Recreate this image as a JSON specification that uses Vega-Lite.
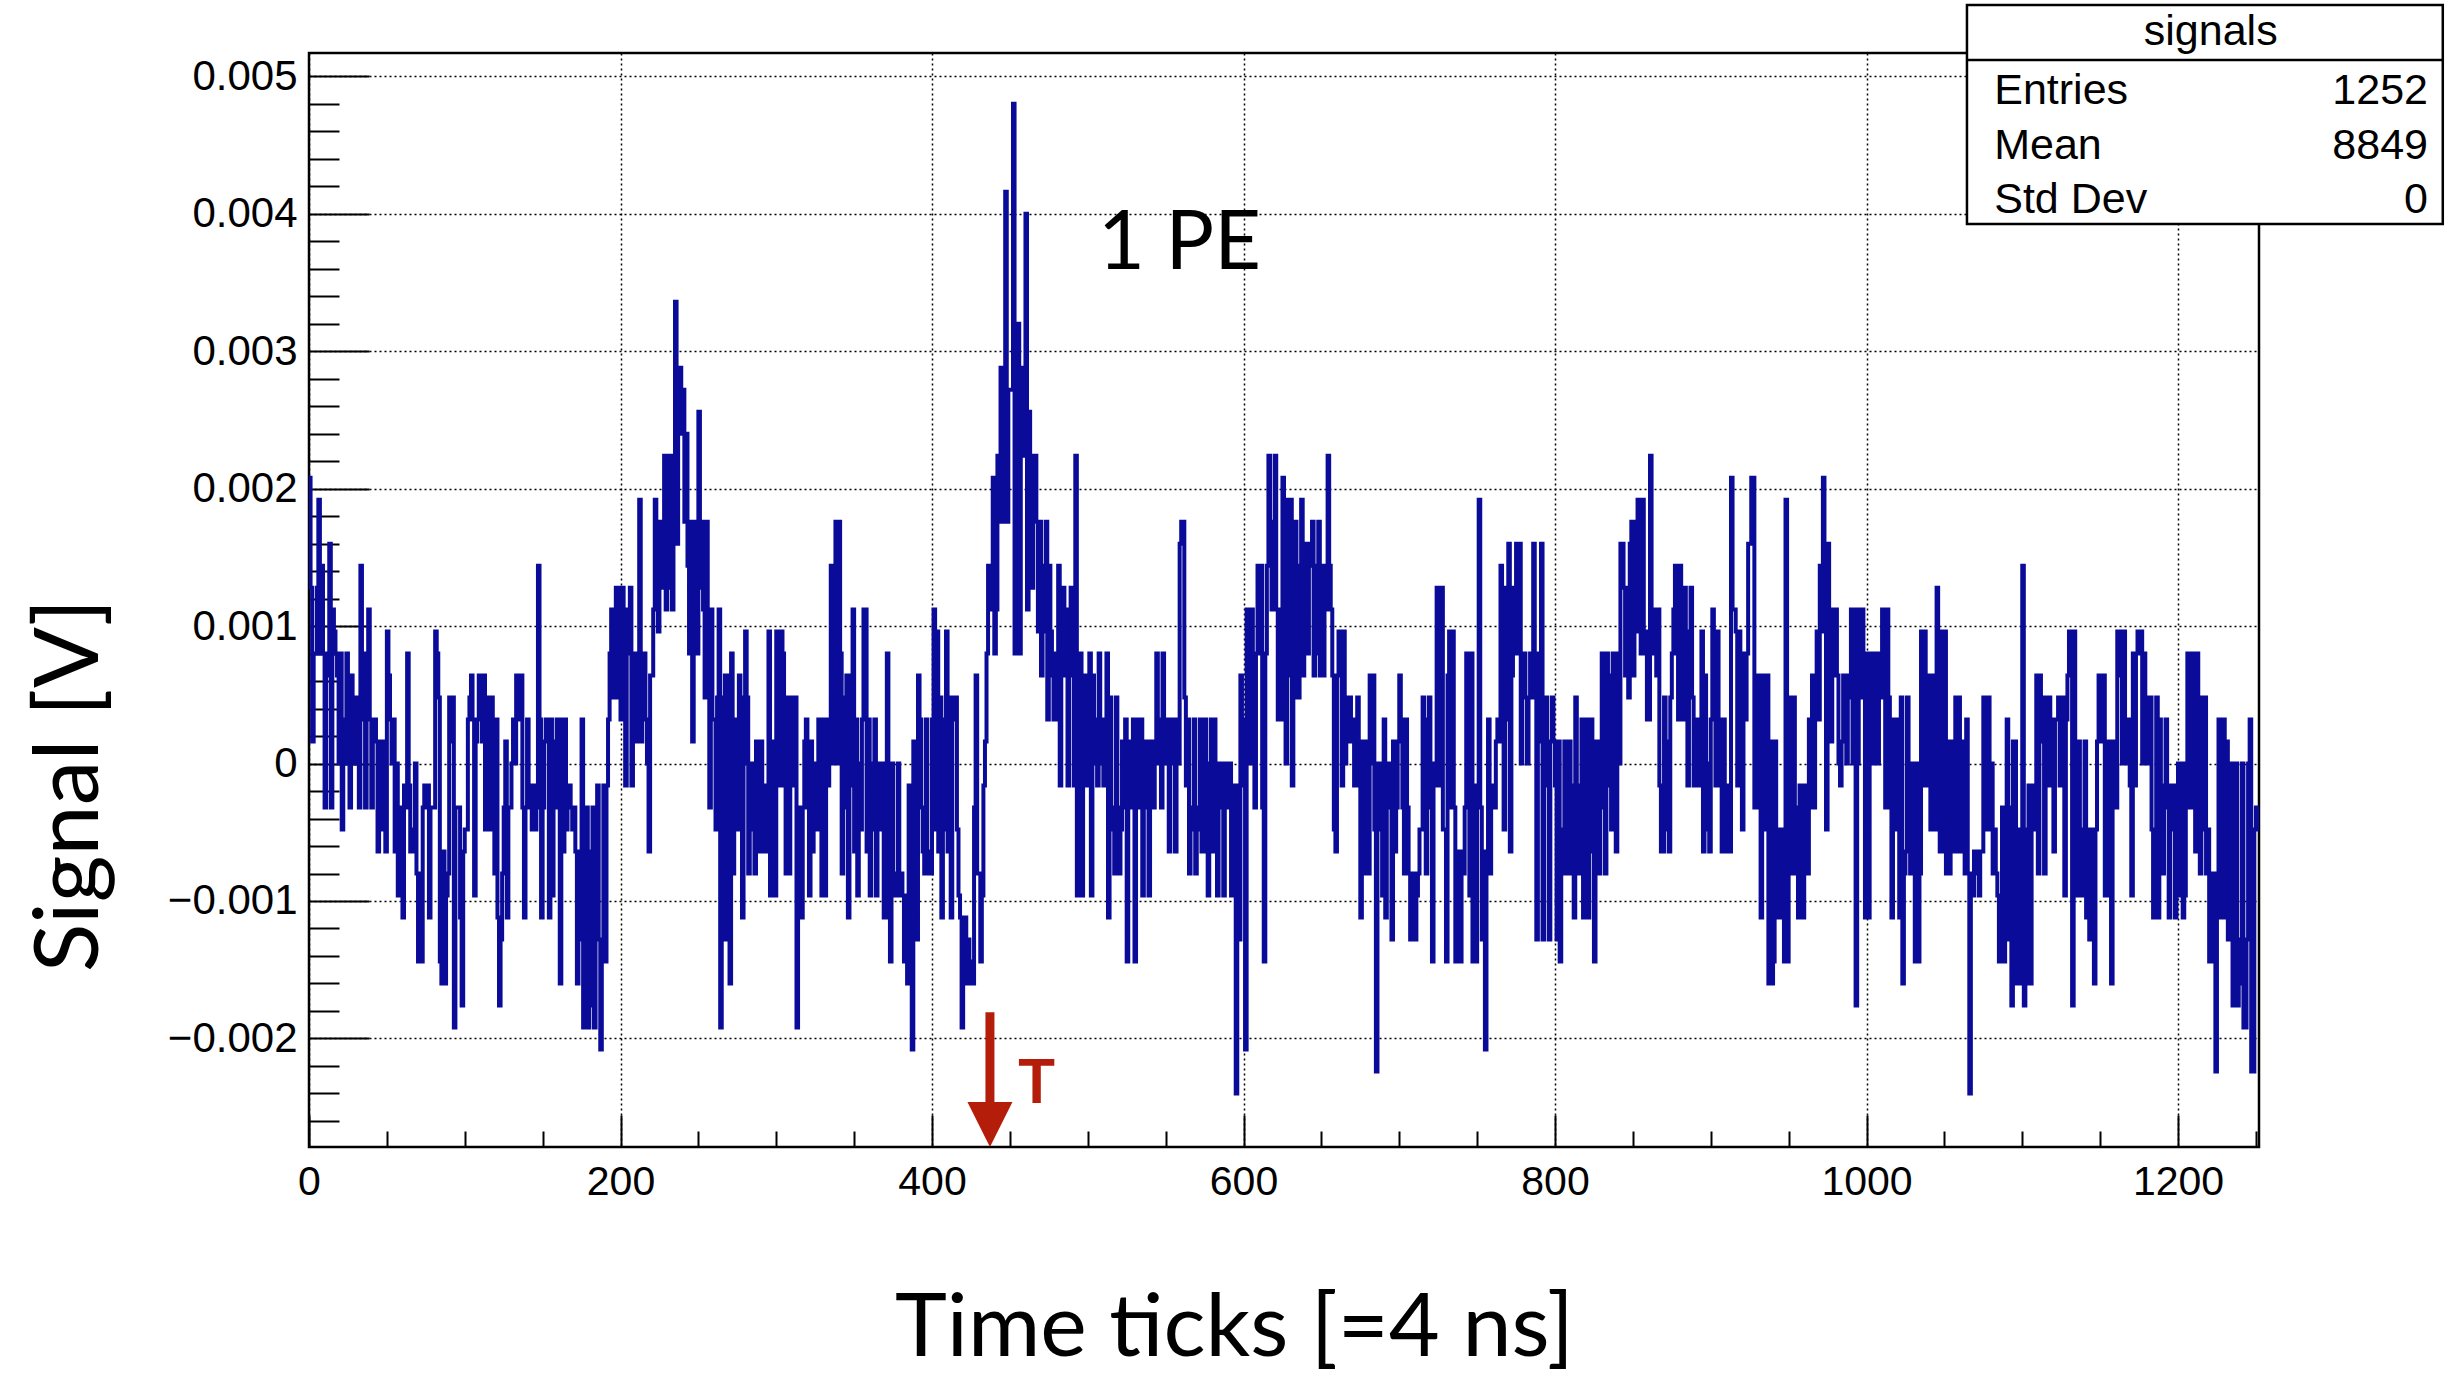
{
  "$schema": "https://vega.github.io/schema/vega-lite/v6.json",
  "width": 1950,
  "height": 1094,
  "autosize": "none",
  "padding": {"left": 309, "top": 53, "right": 201, "bottom": 236},
  "background": "white",
  "config": {"view": {"stroke": "black", "strokeWidth": 2.5}, "font": "Liberation Sans", "axis": {"labelOverlap": false}},
  "datasets": {
    "signal": [
{"t":0,"v":0.00208},{"t":1,"v":0.00128},{"t":2,"v":0.00016},{"t":3,"v":0.0008},{"t":4,"v":0.0008},{"t":5,"v":0.00128},{"t":6,"v":0.00192},{"t":7,"v":0.0008},{"t":8,"v":0.00144},{"t":9,"v":0.0008},
{"t":10,"v":-0.00032},{"t":11,"v":0.00064},{"t":12,"v":0.0008},{"t":13,"v":0.0016},{"t":14,"v":-0.00032},{"t":15,"v":0.00112},{"t":16,"v":0.00096},{"t":17,"v":0.0008},{"t":18,"v":0.00064},{"t":19,"v":0},
{"t":20,"v":0.0008},{"t":21,"v":-0.00048},{"t":22,"v":0.00032},{"t":23,"v":0},{"t":24,"v":0.0008},{"t":25,"v":0.00048},{"t":26,"v":-0.00032},{"t":27,"v":0.00064},{"t":28,"v":0},{"t":29,"v":0.00032},
{"t":30,"v":0.00048},{"t":31,"v":0},{"t":32,"v":-0.00032},{"t":33,"v":0.00144},{"t":34,"v":0.00032},{"t":35,"v":0.0008},{"t":36,"v":-0.00032},{"t":37,"v":0.00064},{"t":38,"v":0.00112},{"t":39,"v":0.00032},
{"t":40,"v":-0.00032},{"t":41,"v":0.00016},{"t":42,"v":0.00032},{"t":43,"v":0.00016},{"t":44,"v":-0.00064},{"t":45,"v":0.00016},{"t":46,"v":0},{"t":47,"v":-0.00048},{"t":48,"v":0.00016},{"t":49,"v":-0.00064},
{"t":50,"v":0.00096},{"t":51,"v":0.00064},{"t":52,"v":0.00032},{"t":53,"v":0},{"t":54,"v":0.00032},{"t":55,"v":-0.00064},{"t":56,"v":0},{"t":57,"v":-0.00096},{"t":58,"v":-0.00032},{"t":59,"v":-0.00032},
{"t":60,"v":-0.00112},{"t":61,"v":-0.00016},{"t":62,"v":-0.00032},{"t":63,"v":0.0008},{"t":64,"v":-0.00016},{"t":65,"v":-0.00064},{"t":66,"v":-0.00048},{"t":67,"v":-0.00064},{"t":68,"v":0},{"t":69,"v":-0.0008},
{"t":70,"v":-0.00144},{"t":71,"v":-0.0008},{"t":72,"v":-0.00144},{"t":73,"v":-0.00032},{"t":74,"v":-0.00016},{"t":75,"v":-0.00032},{"t":76,"v":-0.00016},{"t":77,"v":-0.00112},{"t":78,"v":-0.00032},{"t":79,"v":-0.00032},
{"t":80,"v":-0.00032},{"t":81,"v":0.00096},{"t":82,"v":0.0008},{"t":83,"v":0.00048},{"t":84,"v":-0.00144},{"t":85,"v":-0.0016},{"t":86,"v":-0.00064},{"t":87,"v":-0.0016},{"t":88,"v":-0.00096},{"t":89,"v":-0.0008},
{"t":90,"v":0.00048},{"t":91,"v":0.00016},{"t":92,"v":0.00048},{"t":93,"v":-0.00192},{"t":94,"v":-0.00032},{"t":95,"v":-0.00032},{"t":96,"v":-0.00032},{"t":97,"v":-0.00112},{"t":98,"v":-0.00176},{"t":99,"v":-0.00064},
{"t":100,"v":-0.00048},{"t":101,"v":-0.00048},{"t":102,"v":0.00032},{"t":103,"v":0.00048},{"t":104,"v":0.00064},{"t":105,"v":0.00032},{"t":106,"v":-0.00096},{"t":107,"v":0.00016},{"t":108,"v":0.00032},{"t":109,"v":0.00064},
{"t":110,"v":0.00032},{"t":111,"v":0.00016},{"t":112,"v":0.00064},{"t":113,"v":-0.00048},{"t":114,"v":0.00048},{"t":115,"v":0.00032},{"t":116,"v":-0.00048},{"t":117,"v":0.00048},{"t":118,"v":-0.00032},{"t":119,"v":-0.0008},
{"t":120,"v":0.00032},{"t":121,"v":-0.00112},{"t":122,"v":-0.00176},{"t":123,"v":-0.00128},{"t":124,"v":-0.0008},{"t":125,"v":-0.00032},{"t":126,"v":0.00016},{"t":127,"v":-0.00112},{"t":128,"v":-0.00032},{"t":129,"v":-0.00032},
{"t":130,"v":0},{"t":131,"v":0.00032},{"t":132,"v":0},{"t":133,"v":0.00064},{"t":134,"v":0.00032},{"t":135,"v":0.00032},{"t":136,"v":0.00064},{"t":137,"v":-0.00032},{"t":138,"v":-0.00112},{"t":139,"v":-0.00032},
{"t":140,"v":0.00032},{"t":141,"v":-0.00016},{"t":142,"v":-0.00032},{"t":143,"v":-0.00048},{"t":144,"v":-0.00016},{"t":145,"v":-0.00048},{"t":146,"v":-0.00032},{"t":147,"v":0.00144},{"t":148,"v":0.00032},{"t":149,"v":-0.00112},
{"t":150,"v":-0.00032},{"t":151,"v":0.00016},{"t":152,"v":0.00032},{"t":153,"v":0.00016},{"t":154,"v":-0.00112},{"t":155,"v":0.00032},{"t":156,"v":-0.00096},{"t":157,"v":0.00016},{"t":158,"v":-0.00032},{"t":159,"v":0.00032},
{"t":160,"v":0.00016},{"t":161,"v":-0.0016},{"t":162,"v":0.00032},{"t":163,"v":-0.00064},{"t":164,"v":0.00032},{"t":165,"v":-0.00048},{"t":166,"v":-0.00032},{"t":167,"v":-0.00016},{"t":168,"v":-0.00032},{"t":169,"v":-0.00048},
{"t":170,"v":-0.00032},{"t":171,"v":-0.00064},{"t":172,"v":-0.0016},{"t":173,"v":-0.00064},{"t":174,"v":-0.00128},{"t":175,"v":0.00032},{"t":176,"v":-0.00192},{"t":177,"v":-0.00032},{"t":178,"v":-0.00032},{"t":179,"v":-0.00192},
{"t":180,"v":-0.00064},{"t":181,"v":-0.00176},{"t":182,"v":-0.00032},{"t":183,"v":-0.00192},{"t":184,"v":-0.00064},{"t":185,"v":-0.00016},{"t":186,"v":-0.00128},{"t":187,"v":-0.00208},{"t":188,"v":-0.00144},{"t":189,"v":-0.00016},
{"t":190,"v":-0.00144},{"t":191,"v":-0.00016},{"t":192,"v":0.00032},{"t":193,"v":0.0008},{"t":194,"v":0.00112},{"t":195,"v":0.00048},{"t":196,"v":0.00112},{"t":197,"v":0.00128},{"t":198,"v":0.00048},{"t":199,"v":0.00128},
{"t":200,"v":0.00032},{"t":201,"v":0.00128},{"t":202,"v":0.0008},{"t":203,"v":-0.00016},{"t":204,"v":0.00112},{"t":205,"v":0.0008},{"t":206,"v":0.00128},{"t":207,"v":-0.00016},{"t":208,"v":0.0008},{"t":209,"v":0.0008},
{"t":210,"v":0.00016},{"t":211,"v":0.00032},{"t":212,"v":0.00192},{"t":213,"v":0.00016},{"t":214,"v":0.0008},{"t":215,"v":0.0008},{"t":216,"v":0.00032},{"t":217,"v":0},{"t":218,"v":-0.00064},{"t":219,"v":0.00064},
{"t":220,"v":0.00064},{"t":221,"v":0.00112},{"t":222,"v":0.00192},{"t":223,"v":0.00176},{"t":224,"v":0.00096},{"t":225,"v":0.00176},{"t":226,"v":0.00144},{"t":227,"v":0.00128},{"t":228,"v":0.00224},{"t":229,"v":0.00112},
{"t":230,"v":0.00144},{"t":231,"v":0.00224},{"t":232,"v":0.00128},{"t":233,"v":0.00112},{"t":234,"v":0.00224},{"t":235,"v":0.00336},{"t":236,"v":0.0016},{"t":237,"v":0.00272},{"t":238,"v":0.00288},{"t":239,"v":0.0024},
{"t":240,"v":0.00272},{"t":241,"v":0.00176},{"t":242,"v":0.0024},{"t":243,"v":0.00144},{"t":244,"v":0.0008},{"t":245,"v":0.00176},{"t":246,"v":0.00016},{"t":247,"v":0.0008},{"t":248,"v":0.00176},{"t":249,"v":0.0008},
{"t":250,"v":0.00256},{"t":251,"v":0.00128},{"t":252,"v":0.00176},{"t":253,"v":0.00112},{"t":254,"v":0.00048},{"t":255,"v":0.00176},{"t":256,"v":0.00112},{"t":257,"v":-0.00032},{"t":258,"v":0.00112},{"t":259,"v":0.00032},
{"t":260,"v":0.00032},{"t":261,"v":-0.00048},{"t":262,"v":0.00048},{"t":263,"v":0.00112},{"t":264,"v":-0.00192},{"t":265,"v":0.00048},{"t":266,"v":-0.00128},{"t":267,"v":0.00064},{"t":268,"v":-0.00128},{"t":269,"v":0.00064},
{"t":270,"v":-0.0016},{"t":271,"v":0.0008},{"t":272,"v":-0.0008},{"t":273,"v":0.00032},{"t":274,"v":0.00032},{"t":275,"v":-0.00048},{"t":276,"v":0.00064},{"t":277,"v":0.00048},{"t":278,"v":-0.00112},{"t":279,"v":0},
{"t":280,"v":0.00096},{"t":281,"v":0.00048},{"t":282,"v":-0.0008},{"t":283,"v":0},{"t":284,"v":-0.00048},{"t":285,"v":0},{"t":286,"v":-0.0008},{"t":287,"v":0.00016},{"t":288,"v":-0.00064},{"t":289,"v":-0.00016},
{"t":290,"v":0.00016},{"t":291,"v":-0.00064},{"t":292,"v":-0.00016},{"t":293,"v":-0.00064},{"t":294,"v":-0.00016},{"t":295,"v":0.00096},{"t":296,"v":-0.00096},{"t":297,"v":0.00016},{"t":298,"v":-0.00064},{"t":299,"v":-0.00096},
{"t":300,"v":0.00096},{"t":301,"v":0.0008},{"t":302,"v":-0.00016},{"t":303,"v":0.00096},{"t":304,"v":0.0008},{"t":305,"v":-0.00016},{"t":306,"v":-0.0008},{"t":307,"v":0.00048},{"t":308,"v":-0.0008},{"t":309,"v":0.00048},
{"t":310,"v":0.00032},{"t":311,"v":-0.00016},{"t":312,"v":0.00048},{"t":313,"v":-0.00192},{"t":314,"v":-0.00112},{"t":315,"v":-0.00032},{"t":316,"v":-0.00112},{"t":317,"v":-0.00032},{"t":318,"v":0.00016},{"t":319,"v":0.00032},
{"t":320,"v":-0.00032},{"t":321,"v":-0.00096},{"t":322,"v":0.00016},{"t":323,"v":-0.00064},{"t":324,"v":-0.00016},{"t":325,"v":0},{"t":326,"v":-0.00048},{"t":327,"v":0.00032},{"t":328,"v":0},{"t":329,"v":-0.00096},
{"t":330,"v":0.00032},{"t":331,"v":-0.00096},{"t":332,"v":0.00032},{"t":333,"v":-0.00016},{"t":334,"v":0.00032},{"t":335,"v":0.00144},{"t":336,"v":0},{"t":337,"v":0.00144},{"t":338,"v":0.00176},{"t":339,"v":0},
{"t":340,"v":0.00176},{"t":341,"v":0.0008},{"t":342,"v":-0.0008},{"t":343,"v":-0.00032},{"t":344,"v":0.00048},{"t":345,"v":0.00064},{"t":346,"v":-0.00112},{"t":347,"v":-0.00016},{"t":348,"v":0.00064},{"t":349,"v":0.00112},
{"t":350,"v":-0.00064},{"t":351,"v":0.00032},{"t":352,"v":-0.00096},{"t":353,"v":0},{"t":354,"v":-0.00048},{"t":355,"v":0.00032},{"t":356,"v":0.00112},{"t":357,"v":0.00112},{"t":358,"v":-0.00064},{"t":359,"v":0.00032},
{"t":360,"v":-0.00096},{"t":361,"v":0},{"t":362,"v":-0.00048},{"t":363,"v":0.00032},{"t":364,"v":-0.00096},{"t":365,"v":0},{"t":366,"v":-0.00048},{"t":367,"v":-0.00016},{"t":368,"v":0},{"t":369,"v":-0.00112},
{"t":370,"v":-0.00032},{"t":371,"v":0.0008},{"t":372,"v":-0.00112},{"t":373,"v":-0.00144},{"t":374,"v":0},{"t":375,"v":-0.0008},{"t":376,"v":-0.00096},{"t":377,"v":-0.0008},{"t":378,"v":0},{"t":379,"v":-0.00096},
{"t":380,"v":-0.0008},{"t":381,"v":-0.00096},{"t":382,"v":-0.00144},{"t":383,"v":-0.00096},{"t":384,"v":-0.0016},{"t":385,"v":-0.00016},{"t":386,"v":-0.0016},{"t":387,"v":-0.00208},{"t":388,"v":0.00016},{"t":389,"v":-0.00128},
{"t":390,"v":-0.00128},{"t":391,"v":0.00064},{"t":392,"v":0.00032},{"t":393,"v":-0.00032},{"t":394,"v":-0.00064},{"t":395,"v":-0.0008},{"t":396,"v":0.00032},{"t":397,"v":-0.00064},{"t":398,"v":-0.0008},{"t":399,"v":-0.0008},
{"t":400,"v":0.00032},{"t":401,"v":0.00112},{"t":402,"v":-0.00048},{"t":403,"v":0.00096},{"t":404,"v":-0.00064},{"t":405,"v":0.00048},{"t":406,"v":-0.00112},{"t":407,"v":0.00032},{"t":408,"v":-0.00048},{"t":409,"v":0.00096},
{"t":410,"v":-0.00064},{"t":411,"v":0.00048},{"t":412,"v":-0.00112},{"t":413,"v":0.00032},{"t":414,"v":0.00048},{"t":415,"v":0.00048},{"t":416,"v":-0.00048},{"t":417,"v":-0.00096},{"t":418,"v":-0.00112},{"t":419,"v":-0.00192},
{"t":420,"v":-0.00128},{"t":421,"v":-0.00112},{"t":422,"v":-0.0016},{"t":423,"v":-0.00128},{"t":424,"v":-0.0016},{"t":425,"v":-0.00144},{"t":426,"v":-0.0016},{"t":427,"v":-0.00032},{"t":428,"v":0.00064},{"t":429,"v":-0.0008},
{"t":430,"v":-0.0008},{"t":431,"v":-0.00144},{"t":432,"v":-0.00096},{"t":433,"v":-0.00016},{"t":434,"v":0.00016},{"t":435,"v":0.0008},{"t":436,"v":0.00144},{"t":437,"v":0.00112},{"t":438,"v":0.00144},{"t":439,"v":0.00208},
{"t":440,"v":0.0008},{"t":441,"v":0.00112},{"t":442,"v":0.00224},{"t":443,"v":0.00176},{"t":444,"v":0.00288},{"t":445,"v":0.00176},{"t":446,"v":0.00224},{"t":447,"v":0.00416},{"t":448,"v":0.00176},{"t":449,"v":0.00272},
{"t":450,"v":0.00272},{"t":451,"v":0.00272},{"t":452,"v":0.0048},{"t":453,"v":0.0008},{"t":454,"v":0.0024},{"t":455,"v":0.0032},{"t":456,"v":0.0008},{"t":457,"v":0.00288},{"t":458,"v":0.00224},{"t":459,"v":0.00224},
{"t":460,"v":0.004},{"t":461,"v":0.00112},{"t":462,"v":0.00256},{"t":463,"v":0.00224},{"t":464,"v":0.00128},{"t":465,"v":0.00176},{"t":466,"v":0.00224},{"t":467,"v":0.00176},{"t":468,"v":0.00096},{"t":469,"v":0.00176},
{"t":470,"v":0.00064},{"t":471,"v":0.00144},{"t":472,"v":0.00096},{"t":473,"v":0.00176},{"t":474,"v":0.00032},{"t":475,"v":0.00144},{"t":476,"v":0.00096},{"t":477,"v":0.00064},{"t":478,"v":0.00032},{"t":479,"v":0.0008},
{"t":480,"v":0.00032},{"t":481,"v":0.00144},{"t":482,"v":-0.00016},{"t":483,"v":0.0008},{"t":484,"v":0.00128},{"t":485,"v":0.00064},{"t":486,"v":0.00112},{"t":487,"v":-0.00016},{"t":488,"v":0.00064},{"t":489,"v":0.00128},
{"t":490,"v":0.00112},{"t":491,"v":-0.00016},{"t":492,"v":0.00224},{"t":493,"v":-0.00096},{"t":494,"v":0.0008},{"t":495,"v":0.0008},{"t":496,"v":-0.00096},{"t":497,"v":0.00064},{"t":498,"v":-0.00016},{"t":499,"v":0.00064},
{"t":500,"v":-0.00016},{"t":501,"v":0.0008},{"t":502,"v":-0.00096},{"t":503,"v":0.00064},{"t":504,"v":0.00032},{"t":505,"v":0},{"t":506,"v":-0.00016},{"t":507,"v":0.0008},{"t":508,"v":0},{"t":509,"v":0.00032},
{"t":510,"v":-0.00016},{"t":511,"v":0},{"t":512,"v":0.0008},{"t":513,"v":-0.00112},{"t":514,"v":0.00048},{"t":515,"v":-0.00032},{"t":516,"v":-0.00048},{"t":517,"v":-0.0008},{"t":518,"v":0.00048},{"t":519,"v":-0.00032},
{"t":520,"v":-0.0008},{"t":521,"v":-0.00048},{"t":522,"v":0.00016},{"t":523,"v":-0.00032},{"t":524,"v":0.00032},{"t":525,"v":-0.00144},{"t":526,"v":0},{"t":527,"v":0.00016},{"t":528,"v":-0.00032},{"t":529,"v":0.00032},
{"t":530,"v":-0.00144},{"t":531,"v":0},{"t":532,"v":0.00032},{"t":533,"v":-0.00032},{"t":534,"v":0.00032},{"t":535,"v":-0.00096},{"t":536,"v":0.00016},{"t":537,"v":-0.00032},{"t":538,"v":0.00016},{"t":539,"v":-0.00096},
{"t":540,"v":-0.00032},{"t":541,"v":0.00016},{"t":542,"v":-0.00032},{"t":543,"v":0},{"t":544,"v":0.0008},{"t":545,"v":0.00032},{"t":546,"v":0},{"t":547,"v":-0.00032},{"t":548,"v":0.0008},{"t":549,"v":0.00032},
{"t":550,"v":0},{"t":551,"v":0.00032},{"t":552,"v":-0.00064},{"t":553,"v":0.00032},{"t":554,"v":0},{"t":555,"v":0.00032},{"t":556,"v":-0.00064},{"t":557,"v":0.00032},{"t":558,"v":0},{"t":559,"v":0.0016},
{"t":560,"v":0.00176},{"t":561,"v":0.00176},{"t":562,"v":0.00048},{"t":563,"v":-0.00016},{"t":564,"v":0.00032},{"t":565,"v":-0.0008},{"t":566,"v":-0.00032},{"t":567,"v":-0.00048},{"t":568,"v":0.00032},{"t":569,"v":-0.0008},
{"t":570,"v":-0.00032},{"t":571,"v":-0.00048},{"t":572,"v":0.00032},{"t":573,"v":-0.00064},{"t":574,"v":-0.00032},{"t":575,"v":0.00032},{"t":576,"v":-0.00064},{"t":577,"v":-0.00096},{"t":578,"v":0},{"t":579,"v":0.00032},
{"t":580,"v":-0.00064},{"t":581,"v":0.00032},{"t":582,"v":0},{"t":583,"v":-0.00096},{"t":584,"v":0},{"t":585,"v":-0.00032},{"t":586,"v":0},{"t":587,"v":-0.00096},{"t":588,"v":-0.00032},{"t":589,"v":0},
{"t":590,"v":-0.00032},{"t":591,"v":0},{"t":592,"v":-0.00096},{"t":593,"v":-0.00032},{"t":594,"v":-0.00016},{"t":595,"v":-0.0024},{"t":596,"v":-0.00016},{"t":597,"v":-0.00128},{"t":598,"v":0.00064},{"t":599,"v":-0.00016},
{"t":600,"v":0.00032},{"t":601,"v":-0.00208},{"t":602,"v":0.00112},{"t":603,"v":0},{"t":604,"v":0.00032},{"t":605,"v":0.00112},{"t":606,"v":0},{"t":607,"v":-0.00032},{"t":608,"v":0.0008},{"t":609,"v":0.00144},
{"t":610,"v":0.0008},{"t":611,"v":0.00144},{"t":612,"v":-0.00032},{"t":613,"v":-0.00144},{"t":614,"v":0.0008},{"t":615,"v":0.00144},{"t":616,"v":0.00224},{"t":617,"v":0.00176},{"t":618,"v":0.00112},{"t":619,"v":0.00176},
{"t":620,"v":0.00224},{"t":621,"v":0.00112},{"t":622,"v":0.00032},{"t":623,"v":0.00112},{"t":624,"v":0.00032},{"t":625,"v":0.00208},{"t":626,"v":0.00064},{"t":627,"v":0},{"t":628,"v":0.00192},{"t":629,"v":0.00064},
{"t":630,"v":0.00192},{"t":631,"v":-0.00016},{"t":632,"v":0.00048},{"t":633,"v":0.00176},{"t":634,"v":0.00064},{"t":635,"v":0.00048},{"t":636,"v":0.00144},{"t":637,"v":0.00192},{"t":638,"v":0.00064},{"t":639,"v":0.0016},
{"t":640,"v":0.00144},{"t":641,"v":0.0008},{"t":642,"v":0.0016},{"t":643,"v":0.00144},{"t":644,"v":0.00176},{"t":645,"v":0.00064},{"t":646,"v":0.00144},{"t":647,"v":0.0008},{"t":648,"v":0.00176},{"t":649,"v":0.00064},
{"t":650,"v":0.00144},{"t":651,"v":0.00064},{"t":652,"v":0.00144},{"t":653,"v":0.00112},{"t":654,"v":0.00224},{"t":655,"v":0.00144},{"t":656,"v":0.00112},{"t":657,"v":0.00064},{"t":658,"v":-0.00048},{"t":659,"v":-0.00064},
{"t":660,"v":0.00064},{"t":661,"v":0.00096},{"t":662,"v":0.00064},{"t":663,"v":-0.00016},{"t":664,"v":0.00096},{"t":665,"v":0},{"t":666,"v":0.00048},{"t":667,"v":0.00016},{"t":668,"v":0.00048},{"t":669,"v":0.00032},
{"t":670,"v":0.00016},{"t":671,"v":-0.00016},{"t":672,"v":0.00032},{"t":673,"v":0.00048},{"t":674,"v":-0.00016},{"t":675,"v":-0.00112},{"t":676,"v":0.00016},{"t":677,"v":0.00016},{"t":678,"v":-0.0008},{"t":679,"v":0.00016},
{"t":680,"v":-0.0008},{"t":681,"v":0.00064},{"t":682,"v":0},{"t":683,"v":0.00064},{"t":684,"v":-0.00048},{"t":685,"v":-0.00224},{"t":686,"v":0},{"t":687,"v":-0.00048},{"t":688,"v":0},{"t":689,"v":-0.00096},
{"t":690,"v":0.00032},{"t":691,"v":-0.00112},{"t":692,"v":-0.00032},{"t":693,"v":0},{"t":694,"v":-0.00032},{"t":695,"v":-0.00128},{"t":696,"v":0.00016},{"t":697,"v":-0.00064},{"t":698,"v":-0.00032},{"t":699,"v":0.00016},
{"t":700,"v":0.00064},{"t":701,"v":0.00032},{"t":702,"v":-0.00032},{"t":703,"v":-0.0008},{"t":704,"v":0.00032},{"t":705,"v":-0.00032},{"t":706,"v":-0.0008},{"t":707,"v":-0.00128},{"t":708,"v":-0.00096},{"t":709,"v":-0.0008},
{"t":710,"v":-0.00128},{"t":711,"v":-0.00096},{"t":712,"v":-0.0008},{"t":713,"v":-0.00048},{"t":714,"v":-0.00048},{"t":715,"v":0.00048},{"t":716,"v":0.00032},{"t":717,"v":-0.0008},{"t":718,"v":-0.00032},{"t":719,"v":0.00048},
{"t":720,"v":-0.00032},{"t":721,"v":-0.00144},{"t":722,"v":0},{"t":723,"v":-0.00016},{"t":724,"v":0.00128},{"t":725,"v":0},{"t":726,"v":-0.00016},{"t":727,"v":0.00128},{"t":728,"v":-0.00048},{"t":729,"v":-0.00048},
{"t":730,"v":-0.00144},{"t":731,"v":0.00064},{"t":732,"v":0.00096},{"t":733,"v":-0.00032},{"t":734,"v":0.00096},{"t":735,"v":-0.00032},{"t":736,"v":-0.00144},{"t":737,"v":-0.00064},{"t":738,"v":-0.0008},{"t":739,"v":-0.00144},
{"t":740,"v":-0.00064},{"t":741,"v":-0.0008},{"t":742,"v":-0.00032},{"t":743,"v":0.0008},{"t":744,"v":-0.00016},{"t":745,"v":-0.00096},{"t":746,"v":0.0008},{"t":747,"v":-0.00144},{"t":748,"v":-0.00016},{"t":749,"v":-0.00144},
{"t":750,"v":-0.00032},{"t":751,"v":0.00192},{"t":752,"v":-0.00032},{"t":753,"v":-0.00128},{"t":754,"v":-0.00064},{"t":755,"v":-0.00208},{"t":756,"v":-0.00064},{"t":757,"v":0.00032},{"t":758,"v":-0.0008},{"t":759,"v":-0.00032},
{"t":760,"v":-0.00016},{"t":761,"v":-0.00032},{"t":762,"v":0.00016},{"t":763,"v":0.00032},{"t":764,"v":0.00016},{"t":765,"v":0.00144},{"t":766,"v":0.00032},{"t":767,"v":-0.00048},{"t":768,"v":0.00128},{"t":769,"v":0.00032},
{"t":770,"v":0.0016},{"t":771,"v":-0.00064},{"t":772,"v":0.00064},{"t":773,"v":0.00128},{"t":774,"v":0.0008},{"t":775,"v":0.0016},{"t":776,"v":0.0008},{"t":777,"v":0.0016},{"t":778,"v":0},{"t":779,"v":0.00048},
{"t":780,"v":0.0008},{"t":781,"v":0.00048},{"t":782,"v":0},{"t":783,"v":0.00048},{"t":784,"v":0.0008},{"t":785,"v":0.00048},{"t":786,"v":0.0016},{"t":787,"v":0.0008},{"t":788,"v":-0.00128},{"t":789,"v":0.0008},
{"t":790,"v":0.00016},{"t":791,"v":0.0016},{"t":792,"v":-0.00128},{"t":793,"v":0.00016},{"t":794,"v":0.00048},{"t":795,"v":-0.00016},{"t":796,"v":-0.00128},{"t":797,"v":0.00016},{"t":798,"v":0.00048},{"t":799,"v":0.00016},
{"t":800,"v":-0.00016},{"t":801,"v":-0.00128},{"t":802,"v":0.00016},{"t":803,"v":-0.00144},{"t":804,"v":-0.00048},{"t":805,"v":-0.0008},{"t":806,"v":0.00016},{"t":807,"v":-0.00048},{"t":808,"v":-0.0008},{"t":809,"v":0.00016},
{"t":810,"v":-0.0008},{"t":811,"v":-0.00016},{"t":812,"v":-0.00112},{"t":813,"v":0.00048},{"t":814,"v":-0.00016},{"t":815,"v":-0.0008},{"t":816,"v":-0.00016},{"t":817,"v":0.00032},{"t":818,"v":-0.00112},{"t":819,"v":-0.00016},
{"t":820,"v":0.00032},{"t":821,"v":-0.00112},{"t":822,"v":-0.00016},{"t":823,"v":0.00032},{"t":824,"v":-0.00064},{"t":825,"v":-0.00144},{"t":826,"v":0.00016},{"t":827,"v":-0.00064},{"t":828,"v":-0.0008},{"t":829,"v":0.00016},
{"t":830,"v":0.0008},{"t":831,"v":-0.00032},{"t":832,"v":-0.0008},{"t":833,"v":0.0008},{"t":834,"v":-0.00016},{"t":835,"v":0.00064},{"t":836,"v":-0.00048},{"t":837,"v":0.0008},{"t":838,"v":-0.00048},{"t":839,"v":-0.00064},
{"t":840,"v":0.0008},{"t":841,"v":0},{"t":842,"v":0.0016},{"t":843,"v":0.0016},{"t":844,"v":0.00128},{"t":845,"v":0.00064},{"t":846,"v":0.00128},{"t":847,"v":0.00048},{"t":848,"v":0.0016},{"t":849,"v":0.00176},
{"t":850,"v":0.00064},{"t":851,"v":0.00176},{"t":852,"v":0.00096},{"t":853,"v":0.00192},{"t":854,"v":0.00096},{"t":855,"v":0.0008},{"t":856,"v":0.00192},{"t":857,"v":0.0008},{"t":858,"v":0.00096},{"t":859,"v":0.00032},
{"t":860,"v":0.00032},{"t":861,"v":0.00224},{"t":862,"v":0.00112},{"t":863,"v":0.0008},{"t":864,"v":0.00112},{"t":865,"v":0.00064},{"t":866,"v":0.00112},{"t":867,"v":-0.00016},{"t":868,"v":-0.00064},{"t":869,"v":-0.00064},
{"t":870,"v":0.00048},{"t":871,"v":-0.00048},{"t":872,"v":0.00016},{"t":873,"v":-0.00064},{"t":874,"v":0.00048},{"t":875,"v":0.0008},{"t":876,"v":0.00112},{"t":877,"v":0.00144},{"t":878,"v":0.0008},{"t":879,"v":0.00032},
{"t":880,"v":0.00144},{"t":881,"v":0.00128},{"t":882,"v":0.00032},{"t":883,"v":0.00128},{"t":884,"v":0.00048},{"t":885,"v":-0.00016},{"t":886,"v":0.00096},{"t":887,"v":0.00128},{"t":888,"v":0.00048},{"t":889,"v":-0.00016},
{"t":890,"v":0.00032},{"t":891,"v":0.00016},{"t":892,"v":-0.00016},{"t":893,"v":0.00032},{"t":894,"v":0.00096},{"t":895,"v":-0.00064},{"t":896,"v":0.00064},{"t":897,"v":0},{"t":898,"v":-0.00048},{"t":899,"v":-0.00064},
{"t":900,"v":0.00032},{"t":901,"v":0.00112},{"t":902,"v":0.00096},{"t":903,"v":-0.00016},{"t":904,"v":0.00096},{"t":905,"v":0.00032},{"t":906,"v":-0.00016},{"t":907,"v":-0.00064},{"t":908,"v":0.00032},{"t":909,"v":-0.00064},
{"t":910,"v":-0.00016},{"t":911,"v":-0.00064},{"t":912,"v":-0.00064},{"t":913,"v":0.00208},{"t":914,"v":0.00112},{"t":915,"v":0.00112},{"t":916,"v":0.00096},{"t":917,"v":-0.00016},{"t":918,"v":0.00096},{"t":919,"v":0.00048},
{"t":920,"v":-0.00048},{"t":921,"v":0.0008},{"t":922,"v":0.00032},{"t":923,"v":0.0008},{"t":924,"v":0.0016},{"t":925,"v":0.0016},{"t":926,"v":0.00208},{"t":927,"v":0.00208},{"t":928,"v":-0.00032},{"t":929,"v":0.00064},
{"t":930,"v":-0.00032},{"t":931,"v":0.00064},{"t":932,"v":-0.00112},{"t":933,"v":0.00064},{"t":934,"v":0.00064},{"t":935,"v":-0.00048},{"t":936,"v":0.00064},{"t":937,"v":-0.0016},{"t":938,"v":0.00016},{"t":939,"v":-0.0016},
{"t":940,"v":-0.00144},{"t":941,"v":0.00016},{"t":942,"v":-0.00048},{"t":943,"v":-0.00112},{"t":944,"v":-0.00048},{"t":945,"v":-0.00112},{"t":946,"v":-0.00048},{"t":947,"v":-0.00144},{"t":948,"v":0.00192},{"t":949,"v":-0.00144},
{"t":950,"v":-0.00032},{"t":951,"v":0.00048},{"t":952,"v":-0.0008},{"t":953,"v":0.00048},{"t":954,"v":-0.00032},{"t":955,"v":-0.0008},{"t":956,"v":-0.00112},{"t":957,"v":-0.00016},{"t":958,"v":-0.00064},{"t":959,"v":-0.00112},
{"t":960,"v":-0.00016},{"t":961,"v":-0.00064},{"t":962,"v":-0.0008},{"t":963,"v":0.00032},{"t":964,"v":-0.00032},{"t":965,"v":0.00064},{"t":966,"v":-0.00032},{"t":967,"v":0.00064},{"t":968,"v":0.00096},{"t":969,"v":0.00032},
{"t":970,"v":0.00144},{"t":971,"v":0.00096},{"t":972,"v":0.00208},{"t":973,"v":0.00144},{"t":974,"v":-0.00048},{"t":975,"v":0.0016},{"t":976,"v":0.00112},{"t":977,"v":0.00016},{"t":978,"v":0.00112},{"t":979,"v":0.00064},
{"t":980,"v":0.00112},{"t":981,"v":0.00064},{"t":982,"v":0},{"t":983,"v":-0.00016},{"t":984,"v":0.00016},{"t":985,"v":0.00064},{"t":986,"v":0.00048},{"t":987,"v":0},{"t":988,"v":0.00064},{"t":989,"v":0.00048},
{"t":990,"v":0.00112},{"t":991,"v":0},{"t":992,"v":0.00112},{"t":993,"v":-0.00176},{"t":994,"v":0},{"t":995,"v":0.00112},{"t":996,"v":0.00048},{"t":997,"v":0.00112},{"t":998,"v":0.00048},{"t":999,"v":-0.00112},
{"t":1000,"v":0.0008},{"t":1001,"v":-0.00112},{"t":1002,"v":0.0008},{"t":1003,"v":0.00064},{"t":1004,"v":0},{"t":1005,"v":0.0008},{"t":1006,"v":0.00064},{"t":1007,"v":0},{"t":1008,"v":0.0008},{"t":1009,"v":0.00048},
{"t":1010,"v":0.00112},{"t":1011,"v":0.00048},{"t":1012,"v":-0.00032},{"t":1013,"v":0.00112},{"t":1014,"v":0.00048},{"t":1015,"v":-0.00032},{"t":1016,"v":-0.00112},{"t":1017,"v":0.00032},{"t":1018,"v":-0.00048},{"t":1019,"v":0.00032},
{"t":1020,"v":-0.00048},{"t":1021,"v":-0.00112},{"t":1022,"v":0.00048},{"t":1023,"v":-0.0016},{"t":1024,"v":-0.0008},{"t":1025,"v":-0.00064},{"t":1026,"v":0.00048},{"t":1027,"v":-0.00064},{"t":1028,"v":-0.0008},{"t":1029,"v":0},
{"t":1030,"v":-0.0008},{"t":1031,"v":-0.00144},{"t":1032,"v":0},{"t":1033,"v":-0.00144},{"t":1034,"v":-0.0008},{"t":1035,"v":0.00096},{"t":1036,"v":-0.00016},{"t":1037,"v":0.00096},{"t":1038,"v":0.00064},{"t":1039,"v":-0.00016},
{"t":1040,"v":0.00064},{"t":1041,"v":-0.00048},{"t":1042,"v":0.00016},{"t":1043,"v":0.00064},{"t":1044,"v":-0.00048},{"t":1045,"v":0.00128},{"t":1046,"v":-0.00032},{"t":1047,"v":-0.00064},{"t":1048,"v":0.00096},{"t":1049,"v":-0.00064},
{"t":1050,"v":0.00096},{"t":1051,"v":-0.0008},{"t":1052,"v":0.00016},{"t":1053,"v":-0.0008},{"t":1054,"v":0.00016},{"t":1055,"v":-0.00064},{"t":1056,"v":0},{"t":1057,"v":0.00048},{"t":1058,"v":-0.00064},{"t":1059,"v":0.00048},
{"t":1060,"v":-0.00064},{"t":1061,"v":0},{"t":1062,"v":0.00016},{"t":1063,"v":-0.0008},{"t":1064,"v":0.00032},{"t":1065,"v":-0.0008},{"t":1066,"v":-0.0024},{"t":1067,"v":-0.0008},{"t":1068,"v":-0.00096},{"t":1069,"v":-0.00064},
{"t":1070,"v":-0.0008},{"t":1071,"v":-0.00064},{"t":1072,"v":-0.00096},{"t":1073,"v":-0.00064},{"t":1074,"v":-0.00064},{"t":1075,"v":0.00048},{"t":1076,"v":-0.00048},{"t":1077,"v":0},{"t":1078,"v":0.00048},{"t":1079,"v":-0.00048},
{"t":1080,"v":0},{"t":1081,"v":-0.0008},{"t":1082,"v":-0.00048},{"t":1083,"v":-0.0008},{"t":1084,"v":-0.00096},{"t":1085,"v":-0.00144},{"t":1086,"v":-0.00096},{"t":1087,"v":-0.00032},{"t":1088,"v":-0.00144},{"t":1089,"v":-0.00032},
{"t":1090,"v":0.00032},{"t":1091,"v":-0.00128},{"t":1092,"v":-0.00032},{"t":1093,"v":-0.00176},{"t":1094,"v":0.00016},{"t":1095,"v":0.00016},{"t":1096,"v":-0.0016},{"t":1097,"v":-0.00048},{"t":1098,"v":-0.0016},{"t":1099,"v":-0.00048},
{"t":1100,"v":0.00144},{"t":1101,"v":-0.00176},{"t":1102,"v":-0.00048},{"t":1103,"v":-0.0016},{"t":1104,"v":-0.00016},{"t":1105,"v":-0.0016},{"t":1106,"v":-0.00048},{"t":1107,"v":-0.00016},{"t":1108,"v":-0.00048},{"t":1109,"v":0.00064},
{"t":1110,"v":-0.0008},{"t":1111,"v":0.00064},{"t":1112,"v":0.00048},{"t":1113,"v":0.00016},{"t":1114,"v":-0.0008},{"t":1115,"v":0.00048},{"t":1116,"v":-0.00016},{"t":1117,"v":0.00048},{"t":1118,"v":0.00032},{"t":1119,"v":-0.00016},
{"t":1120,"v":-0.00064},{"t":1121,"v":0.00032},{"t":1122,"v":0.00032},{"t":1123,"v":0.00048},{"t":1124,"v":-0.00016},{"t":1125,"v":0.00032},{"t":1126,"v":0.00048},{"t":1127,"v":-0.00096},{"t":1128,"v":0.00032},{"t":1129,"v":0.00064},
{"t":1130,"v":0.00096},{"t":1131,"v":0.00064},{"t":1132,"v":-0.00176},{"t":1133,"v":0.00096},{"t":1134,"v":-0.00048},{"t":1135,"v":-0.00096},{"t":1136,"v":0.00016},{"t":1137,"v":-0.00048},{"t":1138,"v":-0.00096},{"t":1139,"v":-0.00048},
{"t":1140,"v":0.00016},{"t":1141,"v":-0.00112},{"t":1142,"v":-0.00048},{"t":1143,"v":-0.00128},{"t":1144,"v":-0.00048},{"t":1145,"v":-0.0008},{"t":1146,"v":-0.0016},{"t":1147,"v":-0.00048},{"t":1148,"v":0.00016},{"t":1149,"v":0.00064},
{"t":1150,"v":0.00016},{"t":1151,"v":0.00064},{"t":1152,"v":0.00064},{"t":1153,"v":-0.00096},{"t":1154,"v":0.00016},{"t":1155,"v":-0.00096},{"t":1156,"v":0.00016},{"t":1157,"v":-0.0016},{"t":1158,"v":-0.00032},{"t":1159,"v":0.00016},
{"t":1160,"v":-0.00032},{"t":1161,"v":0.00096},{"t":1162,"v":0.00096},{"t":1163,"v":0.00064},{"t":1164,"v":0},{"t":1165,"v":0.00096},{"t":1166,"v":0.00032},{"t":1167,"v":0},{"t":1168,"v":0.00032},{"t":1169,"v":-0.00016},
{"t":1170,"v":-0.00096},{"t":1171,"v":0.0008},{"t":1172,"v":-0.00016},{"t":1173,"v":0.0008},{"t":1174,"v":0.00096},{"t":1175,"v":0.0008},{"t":1176,"v":0.00096},{"t":1177,"v":0},{"t":1178,"v":0.0008},{"t":1179,"v":0},
{"t":1180,"v":0.00048},{"t":1181,"v":0},{"t":1182,"v":0.00048},{"t":1183,"v":-0.00048},{"t":1184,"v":-0.00112},{"t":1185,"v":-0.00048},{"t":1186,"v":0.00048},{"t":1187,"v":-0.00112},{"t":1188,"v":0.00032},{"t":1189,"v":-0.00016},
{"t":1190,"v":-0.0008},{"t":1191,"v":-0.00032},{"t":1192,"v":0.00032},{"t":1193,"v":-0.00016},{"t":1194,"v":-0.00112},{"t":1195,"v":-0.00048},{"t":1196,"v":-0.00016},{"t":1197,"v":-0.00048},{"t":1198,"v":-0.00112},{"t":1199,"v":-0.00016},
{"t":1200,"v":0},{"t":1201,"v":-0.00096},{"t":1202,"v":0},{"t":1203,"v":-0.00112},{"t":1204,"v":-0.00096},{"t":1205,"v":0},{"t":1206,"v":0.0008},{"t":1207,"v":-0.00032},{"t":1208,"v":0.0008},{"t":1209,"v":0.0008},
{"t":1210,"v":-0.00032},{"t":1211,"v":-0.00064},{"t":1212,"v":0.0008},{"t":1213,"v":-0.00064},{"t":1214,"v":-0.0008},{"t":1215,"v":0.00048},{"t":1216,"v":-0.00048},{"t":1217,"v":0.00048},{"t":1218,"v":-0.0008},{"t":1219,"v":-0.00048},
{"t":1220,"v":-0.00144},{"t":1221,"v":-0.00144},{"t":1222,"v":-0.0008},{"t":1223,"v":-0.00144},{"t":1224,"v":-0.00224},{"t":1225,"v":-0.0008},{"t":1226,"v":0.00032},{"t":1227,"v":-0.00112},{"t":1228,"v":0.00016},{"t":1229,"v":0.00032},
{"t":1230,"v":-0.00112},{"t":1231,"v":0.00016},{"t":1232,"v":-0.00128},{"t":1233,"v":-0.00128},{"t":1234,"v":0},{"t":1235,"v":-0.00176},{"t":1236,"v":-0.00096},{"t":1237,"v":0},{"t":1238,"v":-0.00176},{"t":1239,"v":-0.0016},
{"t":1240,"v":-0.00128},{"t":1241,"v":0},{"t":1242,"v":-0.00192},{"t":1243,"v":-0.00192},{"t":1244,"v":-0.00128},{"t":1245,"v":0},{"t":1246,"v":0.00032},{"t":1247,"v":-0.00224},{"t":1248,"v":-0.00224},{"t":1249,"v":-0.00048},
{"t":1250,"v":-0.00032},{"t":1251,"v":-0.00048},{"t":1252,"v":-0.00048}
    ]
  },
  "layer": [
    {
      "data": {"name": "signal"},
      "mark": {"type": "line", "interpolate": "step-after", "color": "#0b0b99", "strokeWidth": 4, "strokeJoin": "miter", "clip": true},
      "encoding": {
        "x": {
          "field": "t", "type": "quantitative",
          "scale": {"domain": [0, 1252], "nice": false, "zero": false},
          "axis": {
            "values": [0,50,100,150,200,250,300,350,400,450,500,550,600,650,700,750,800,850,900,950,1000,1050,1100,1150,1200,1250],
            "tickCount": 100,
            "title": "Time ticks [=4 ns]",
            "titleFont": "Lato", "titleFontSize": 88, "titleFontWeight": "normal", "titleColor": "black",
            "titleX": 925, "titleY": 208, "titleAlign": "center", "titleBaseline": "alphabetic",
            "labelFont": "Liberation Sans", "labelFontSize": 41, "labelColor": "black",
            "labelExpr": "datum.value % 200 == 0 ? format(datum.value, 'd') : ''",
            "labelFlush": false, "labelOverlap": false, "labelBaseline": "top", "labelPadding": 47,
            "domain": false,
            "tickColor": "black", "tickWidth": 2,
            "tickSize": {"condition": {"test": "datum.value % 200 == 0", "value": -32}, "value": -16},
            "grid": true, "gridColor": "black", "gridDash": [2, 3], "gridWidth": 1.5,
            "gridOpacity": {"condition": {"test": "datum.value % 200 == 0", "value": 1}, "value": 0}
          }
        },
        "y": {
          "field": "v", "type": "quantitative",
          "scale": {"domain": [-0.00279, 0.00517], "nice": false, "zero": false},
          "axis": {
            "values": [-0.0026,-0.0024,-0.0022,-0.002,-0.0018,-0.0016,-0.0014,-0.0012,-0.001,-0.0008,-0.0006,-0.0004,-0.0002,0,0.0002,0.0004,0.0006,0.0008,0.001,0.0012,0.0014,0.0016,0.0018,0.002,0.0022,0.0024,0.0026,0.0028,0.003,0.0032,0.0034,0.0036,0.0038,0.004,0.0042,0.0044,0.0046,0.0048,0.005],
            "tickCount": 100,
            "title": "Signal [V]",
            "titleFont": "Lato", "titleFontSize": 90, "titleFontWeight": "normal", "titleColor": "black",
            "titleAngle": 270, "titleX": -212, "titleY": 732, "titleAlign": "center", "titleBaseline": "alphabetic",
            "labelFont": "Liberation Sans", "labelFontSize": 42, "labelColor": "black",
            "labelExpr": "round(datum.value*5000) % 5 == 0 ? (round(datum.value*5000) == 0 ? '0' : format(round(datum.value*5000)/5000, '.3f')) : ''",
            "labelOverlap": false, "labelPadding": 72, "labelFlush": false,
            "domain": false,
            "tickColor": "black", "tickWidth": 2,
            "tickSize": {"condition": {"test": "round(datum.value*5000) % 5 == 0", "value": -60}, "value": -30},
            "grid": true, "gridColor": "black", "gridDash": [2, 3], "gridWidth": 1.5,
            "gridOpacity": {"condition": {"test": "round(datum.value*5000) % 5 == 0", "value": 1}, "value": 0}
          }
        }
      }
    },
    {
      "data": {"values": [{"t": 437.2, "top": -0.00181, "bottom": -0.0025}]},
      "mark": {"type": "rule", "color": "#b31d0a", "strokeWidth": 9, "clip": false},
      "encoding": {
        "x": {"field": "t", "type": "quantitative"},
        "y": {"field": "top", "type": "quantitative"},
        "y2": {"field": "bottom"}
      }
    },
    {
      "data": {"values": [{"t": 437.2, "v": -0.00279}]},
      "mark": {"type": "point", "shape": "M-1,-2L1,-2L0,0Z", "size": 2025, "filled": true, "color": "#b31d0a", "opacity": 1, "strokeWidth": 0, "clip": false},
      "encoding": {
        "x": {"field": "t", "type": "quantitative"},
        "y": {"field": "v", "type": "quantitative"}
      }
    },
    {
      "data": {"values": [{"t": 455.2, "v": -0.00247, "label": "T"}]},
      "mark": {"type": "text", "font": "Lato", "fontWeight": "bold", "fontSize": 62, "color": "#b31d0a", "align": "left", "baseline": "alphabetic", "clip": false},
      "encoding": {
        "x": {"field": "t", "type": "quantitative"},
        "y": {"field": "v", "type": "quantitative"},
        "text": {"field": "label"}
      }
    },
    {
      "data": {"values": [{"t": 506.5, "v": 0.003598, "label": "1 PE"}]},
      "mark": {"type": "text", "font": "Lato", "fontSize": 81, "color": "black", "align": "left", "baseline": "alphabetic", "clip": false},
      "encoding": {
        "x": {"field": "t", "type": "quantitative"},
        "y": {"field": "v", "type": "quantitative"},
        "text": {"field": "label"}
      }
    },
    {
      "data": {"values": [{"x1": 1064.5, "x2": 1370, "y1": 0.005519, "y2": 0.003926}]},
      "mark": {"type": "rect", "fill": "white", "stroke": "black", "strokeWidth": 2.5, "clip": false},
      "encoding": {
        "x": {"field": "x1", "type": "quantitative"},
        "x2": {"field": "x2"},
        "y": {"field": "y1", "type": "quantitative"},
        "y2": {"field": "y2"}
      }
    },
    {
      "data": {"values": [{"x1": 1064.5, "x2": 1370, "y": 0.005119}]},
      "mark": {"type": "rule", "color": "black", "strokeWidth": 2.5, "clip": false},
      "encoding": {
        "x": {"field": "x1", "type": "quantitative"},
        "x2": {"field": "x2"},
        "y": {"field": "y", "type": "quantitative"}
      }
    },
    {
      "data": {"values": [{"t": 1221, "v": 0.005228, "label": "signals"}]},
      "mark": {"type": "text", "font": "Liberation Sans", "fontSize": 43, "color": "black", "align": "center", "baseline": "alphabetic", "clip": false},
      "encoding": {
        "x": {"field": "t", "type": "quantitative"},
        "y": {"field": "v", "type": "quantitative"},
        "text": {"field": "label"}
      }
    },
    {
      "data": {"values": [
        {"t": 1082, "v": 0.004799, "label": "Entries"},
        {"t": 1082, "v": 0.004399, "label": "Mean"},
        {"t": 1082, "v": 0.004006, "label": "Std Dev"}
      ]},
      "mark": {"type": "text", "font": "Liberation Sans", "fontSize": 43, "color": "black", "align": "left", "baseline": "alphabetic", "clip": false},
      "encoding": {
        "x": {"field": "t", "type": "quantitative"},
        "y": {"field": "v", "type": "quantitative"},
        "text": {"field": "label"}
      }
    },
    {
      "data": {"values": [
        {"t": 1360.5, "v": 0.004799, "label": "1252"},
        {"t": 1360.5, "v": 0.004399, "label": "8849"},
        {"t": 1360.5, "v": 0.004006, "label": "0"}
      ]},
      "mark": {"type": "text", "font": "Liberation Sans", "fontSize": 43, "color": "black", "align": "right", "baseline": "alphabetic", "clip": false},
      "encoding": {
        "x": {"field": "t", "type": "quantitative"},
        "y": {"field": "v", "type": "quantitative"},
        "text": {"field": "label"}
      }
    }
  ]
}
